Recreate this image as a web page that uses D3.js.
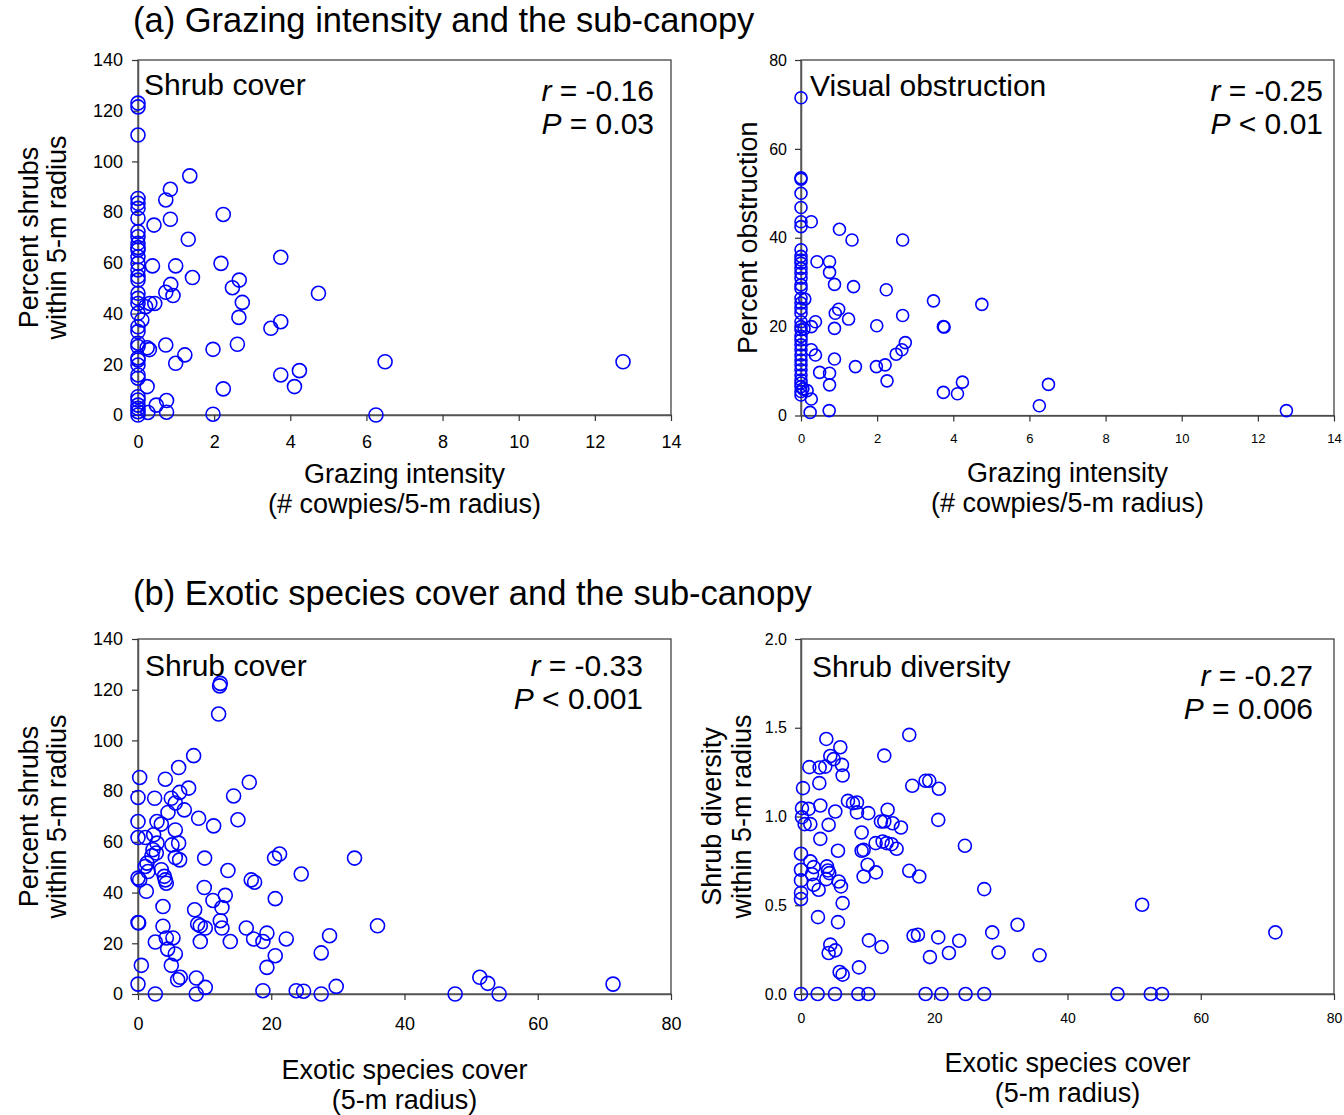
<!DOCTYPE html>
<html>
<head>
<meta charset="utf-8">
<script src="https://cdn.jsdelivr.net/npm/d3@7"></script>
<style>
  body { margin: 0; background: #fff; }
  svg text { font-family: "Liberation Sans", Arial, Helvetica, sans-serif; fill: #000; }
</style>
</head>
<body>
<svg id="fig" width="1344" height="1115"></svg>
<script>
// ---- (a) grazing intensity vs shrub cover ----
const grazingA = [
  0,0,0,0,0,0,0,0,0,0,0,0,0,0,0,0,0,0,0,0,0,0,0,0,0,0,0,0,0,0,0,0,0,0,0,0,
  0.1,0.2,0.24,0.3,0.31,0.44,0.24,0.26,0.42,0.38,0.73,0.85,0.85,1.36,1.32,0.99,1.43,0.86,0.73,0.92,
  0.73,1.23,0.99,0.48,0.75,0.75,2.24,2.18,1.97,2.24,1.97,2.66,2.48,2.74,2.65,2.61,3.75,3.75,3.49,3.75,
  4.24,4.11,4.74,6.25,6.49,12.74
];
const shrubCoverA = [
  121.5,123,110.4,85.4,83.5,81.5,77.6,72.3,70.3,67.7,66,65.1,62.4,59.8,57.2,54.6,53.2,48,46,44,40.1,34.8,
  32.9,28.3,27,22.5,21.7,19.7,15.8,14.5,7.2,5.9,3.9,2.6,1.3,0,
  37.5,42.7,26.5,25.8,44,44,11.2,1.0,74.9,58.8,84.8,89,77.2,94.3,69.3,58.8,54.2,51.5,48.4,47.1,
  27.6,23.7,20.4,3.9,5.7,1.1,79.1,59.8,25.9,10.3,0.3,53.2,50.2,44.4,38.5,27.9,62.2,36.8,34.2,15.8,
  17.5,11.2,48,0,21,21
];

// ---- (a) grazing intensity vs visual obstruction ----
const grazingB = [
  0,0,0,0,0,0,0,0,0,0,0,0,0,0,0,0,0,0,0,0,0,0,0,0,0,0,0,0,0,0,0,0,0,0,0,0,0,
  0.1,0.08,0.05,
  0.27,0.42,0.75,0.75,0.88,1.01,1.34,1.38,0.99,0.90,1.25,0.88,0.27,0.38,0.27,0.38,0.88,0.49,0.75,0.75,
  0.16,0.27,0.24,0.74,1.43,1.99,1.98,2.21,2.26,2.24,2.67,2.67,2.74,2.50,2.65,3.48,3.74,3.76,3.74,4.11,
  4.24,4.75,6.26,6.5,12.75
];
const obstruction = [
  71.5,53.5,53.2,50,46.8,43.6,42.5,37.3,35.8,35,34.3,33.1,32,30.9,29.4,28.6,26.4,25.3,24.1,23,21.1,20,
  19.3,17.8,17,15.9,14.8,13.6,12.5,11.4,10.3,9.1,8,7.3,6.5,5.4,4.6,
  26.2,19.5,6,
  43.6,34.6,34.6,32.2,29.5,41.9,39.5,29,23.9,23,21.7,19.6,20,21.1,14.8,13.6,12.7,9.7,9.5,6.9,
  5.6,3.7,0.7,1.1,11,20.2,11,11.4,7.8,28.3,39.5,22.5,16.4,13.8,14.8,25.8,20,19.9,5.2,4.9,
  7.5,25,2.2,7,1.1
];

// ---- (b) exotic species cover vs shrub cover ----
const exoticA = [
  0.25,0,0,0,1.1,0,0.25,1.1,1.25,0,0.1,0.5,0,2.6,2.6,2.5,2.85,2.35,2.85,2.25,2.1,2.75,1.35,1.5,3.5,
  3.5,3.95,4.1,4.25,3.75,3.75,4.25,5.25,4.45,5.6,5,5.95,6.35,4.1,4.5,5,5.6,6.25,6.1,6.95,7.6,5.6,5.1,
  6.1,5.6,6.25,8.35,9.1,10,9.95,8.5,8.95,9.35,10.1,9.35,8.75,8.75,10.1,11.35,11.25,12.35,12.25,12.1,
  12.6,13.1,12.35,12.6,13.5,13.85,14.35,15,16.7,16.25,17,17.5,17.35,19.35,18.75,19.35,20.6,18.75,20.5,
  21.25,20.6,22.25,23.75,24.85,24.5,27.5,27.5,28.75,29.75,32.5,35.95,47.6,51.3,52.5,54.2,71.3
];
const shrubCoverB = [
  85.4,77.5,68,61.7,61.7,45.7,45,50.3,40.5,28.2,28,11.3,3.9,0,20.5,77.2,68,62.8,59.5,56.9,54.5,55.6,51.6,48.3,67,
  49,46.4,45,43.7,34.5,26.7,22.1,22.1,17.7,15.8,11.3,5.6,6.6,84.7,71.6,77.2,75.3,79.5,89.3,72.6,81.2,64.7,58.8,
  59.5,53.8,52.9,94,69.3,53.6,42,33.2,27.6,26.9,26,20.7,6.3,0,2.6,66.3,36.9,122.5,121.5,110.4,
  34.1,38.9,28.9,26,48.7,20.7,78.1,68.7,83.5,26,45,44.1,21.7,24,20.7,10.5,15.1,1.3,53.6,
  55.2,37.6,21.7,1.3,1.1,47.3,16.2,0,23,3,53.6,26.9,0,6.6,4.2,0,3.9
];

// ---- (b) exotic species cover vs shrub diversity ----
const exoticB = [
  0,2.5,5.1,8.6,10.1,18.7,21.1,24.7,27.5,
  0,0,0,0,0,0.15,0.15,0.3,0.55,1.15,1.4,1.25,1.4,1.9,1.65,1.9,2.65,2.55,2.9,2.9,2.75,2.8,3.65,3.8,4.4,4.9,
  4.15,5.15,3.9,4.05,4.25,3.8,4.4,4.15,5.15,5.55,5.65,6,6.25,5.55,5.9,6.15,6.25,5.8,6.25,7.05,7.8,8.4,8.4,
  10.1,9.1,9.4,9.1,9.4,10,11.25,11.2,12.25,12.85,13.6,14.35,12,12.5,13,13.75,15,12.5,8.7,10.2,12.1,16.25,
  16.7,18.7,19.25,20.7,20.6,16.25,17.75,16.9,17.55,19.35,20.6,22.2,23.75,24.6,27.5,28.7,29.65,32.5,35.8,
  47.5,52.5,54.2,51.2,71.2
];
const shrubDiversity = [
  0,0,0,0,0,0,0,0,0,
  0.535,0.57,0.64,0.70,0.79,0.996,1.047,1.16,0.957,1.043,0.957,1.278,0.747,0.715,0.675,0.615,0.587,0.433,0.874,1.062,1.188,1.276,1.281,1.437,1.341,1.323,
  0.953,1.028,0.719,0.696,0.681,0.647,0.278,0.231,0.246,0.807,0.634,0.606,0.512,0.405,1.39,1.291,1.231,0.124,0.109,1.088,1.075,1.079,1.023,
  1.019,0.910,0.812,0.807,0.662,0.728,0.685,0.850,0.859,0.850,0.844,0.818,0.972,0.972,1.038,0.962,0.938,1.343,0.150,0.302,0.265,1.460,
  1.173,1.201,1.201,1.156,0.981,0.694,0.662,0.328,0.334,0.208,0.319,0.231,0.300,0.835,0.591,0.347,0.234,0.390,0.218,
  0,0,0,0.503,0.347
];

// ---- axis ticks ----
const grazingTicks = [0, 2, 4, 6, 8, 10, 12, 14];
const exoticTicks = [0, 20, 40, 60, 80];
const shrubTicks = [0, 20, 40, 60, 80, 100, 120, 140];
const obstructionTicks = [0, 20, 40, 60, 80];
const diversityTicks = [0, 0.5, 1.0, 1.5, 2.0];

const svg = d3.select("#fig");
const BLUE = "#0000ff";
const LABEL_SIZE = 27;
const NAME_SIZE = 30;
const STAT_SIZE = 30;

function drawPanel(p) {
  const x = d3.scaleLinear().domain(p.xDomain).range([p.left, p.right]);
  const y = d3.scaleLinear().domain(p.yDomain).range([p.bottom, p.top]);
  const g = svg.append("g");

  // plot frame
  g.append("rect")
    .attr("x", p.left).attr("y", p.top)
    .attr("width", p.right - p.left).attr("height", p.bottom - p.top)
    .attr("fill", "none").attr("stroke", "#333").attr("stroke-width", 1.2);

  const xAxis = g.append("g")
    .attr("transform", `translate(0,${p.bottom})`)
    .call(d3.axisBottom(x).tickValues(p.xTicks).tickFormat(p.xFmt || d3.format("d"))
      .tickSize(6).tickSizeOuter(0).tickPadding(p.xPad));
  const yAxis = g.append("g")
    .attr("transform", `translate(${p.left},0)`)
    .call(d3.axisLeft(y).tickValues(p.yTicks).tickFormat(p.yFmt || d3.format("d"))
      .tickSize(6).tickSizeOuter(0).tickPadding(p.yPad));

  [xAxis, yAxis].forEach(a => {
    a.attr("font-family", null);
    a.select(".domain").attr("stroke", "#555").attr("stroke-width", 1.5);
    a.selectAll(".tick line").attr("stroke", "#333").attr("stroke-width", 1.2);
  });
  xAxis.selectAll(".tick text").attr("font-size", p.xTickSize).attr("fill", "#000");
  yAxis.selectAll(".tick text").attr("font-size", p.yTickSize).attr("fill", "#000");

  // observations
  g.append("g").selectAll("circle")
    .data(d3.zip(p.xs, p.ys))
    .join("circle")
    .attr("cx", d => x(d[0]))
    .attr("cy", d => y(d[1]))
    .attr("r", p.r)
    .attr("fill", "none")
    .attr("stroke", BLUE)
    .attr("stroke-width", 1.6);

  // panel name
  g.append("text").attr("x", p.left + p.nameDx).attr("y", p.top + p.nameDy)
    .attr("font-size", NAME_SIZE).text(p.name);

  // correlation statistics
  const st = g.append("g").attr("font-size", STAT_SIZE).attr("text-anchor", "end");
  const l1 = st.append("text").attr("x", p.statX).attr("y", p.statY);
  l1.append("tspan").attr("font-style", "italic").text("r");
  l1.append("tspan").text(" = " + p.r_);
  const l2 = st.append("text").attr("x", p.statX).attr("y", p.statY + 33);
  l2.append("tspan").attr("font-style", "italic").text("P");
  l2.append("tspan").text(" " + p.pText);

  // axis titles
  const cx = (p.left + p.right) / 2;
  p.xLabel.forEach((t, i) => {
    g.append("text").attr("x", cx).attr("y", p.xLabelY + i * 30)
      .attr("text-anchor", "middle").attr("font-size", LABEL_SIZE).text(t);
  });
  const cy = (p.top + p.bottom) / 2;
  p.yLabel.forEach((t, i) => {
    g.append("text")
      .attr("transform", `translate(${p.yLabelX + i * p.yLabelGap},${cy}) rotate(-90)`)
      .attr("text-anchor", "middle").attr("font-size", LABEL_SIZE).text(t);
  });
}

// section headings
svg.append("text").attr("x", 133).attr("y", 32).attr("font-size", 34.5)
  .text("(a) Grazing intensity and the sub-canopy");
svg.append("text").attr("x", 133).attr("y", 605).attr("font-size", 34.5)
  .text("(b) Exotic species cover and the sub-canopy");

drawPanel({
  left: 138, right: 671, top: 60, bottom: 415,
  xDomain: [0, 14], yDomain: [0, 140], xTicks: grazingTicks, yTicks: shrubTicks,
  xTickSize: 18, yTickSize: 18, xPad: 14, yPad: 9,
  xs: grazingA, ys: shrubCoverA, r: 7,
  name: "Shrub cover", nameDx: 6, nameDy: 35,
  statX: 654, statY: 101, r_: "-0.16", pText: "= 0.03",
  xLabel: ["Grazing intensity", "(# cowpies/5-m radius)"], xLabelY: 483,
  yLabel: ["Percent shrubs", "within 5-m radius"], yLabelX: 38, yLabelGap: 28
});

drawPanel({
  left: 801, right: 1334, top: 60, bottom: 415.5,
  xDomain: [0, 14], yDomain: [0, 80], xTicks: grazingTicks, yTicks: obstructionTicks,
  xTickSize: 13, yTickSize: 16, xPad: 12, yPad: 8,
  xs: grazingB, ys: obstruction, r: 6,
  name: "Visual obstruction", nameDx: 9, nameDy: 36,
  statX: 1323, statY: 101, r_: "-0.25", pText: "< 0.01",
  xLabel: ["Grazing intensity", "(# cowpies/5-m radius)"], xLabelY: 482,
  yLabel: ["Percent obstruction"], yLabelX: 757, yLabelGap: 0
});

drawPanel({
  left: 138, right: 671, top: 639, bottom: 994,
  xDomain: [0, 80], yDomain: [0, 140], xTicks: exoticTicks, yTicks: shrubTicks,
  xTickSize: 18, yTickSize: 18, xPad: 17, yPad: 9,
  xs: exoticA, ys: shrubCoverB, r: 7,
  name: "Shrub cover", nameDx: 7, nameDy: 37,
  statX: 643, statY: 676, r_: "-0.33", pText: "< 0.001",
  xLabel: ["Exotic species cover", "(5-m radius)"], xLabelY: 1079,
  yLabel: ["Percent shrubs", "within 5-m radius"], yLabelX: 38, yLabelGap: 28
});

drawPanel({
  left: 801, right: 1334, top: 639, bottom: 994,
  xDomain: [0, 80], yDomain: [0, 2], xTicks: exoticTicks, yTicks: diversityTicks,
  xTickSize: 14, yTickSize: 16, xPad: 13, yPad: 8,
  xs: exoticB, ys: shrubDiversity, r: 6.5,
  name: "Shrub diversity", nameDx: 11, nameDy: 38,
  statX: 1313, statY: 686, r_: "-0.27", pText: "= 0.006",
  xLabel: ["Exotic species cover", "(5-m radius)"], xLabelY: 1072,
  yLabel: ["Shrub diversity", "within 5-m radius"], yLabelX: 721, yLabelGap: 30,
  yFmt: d3.format(".1f")
});
</script>
</body>
</html>
